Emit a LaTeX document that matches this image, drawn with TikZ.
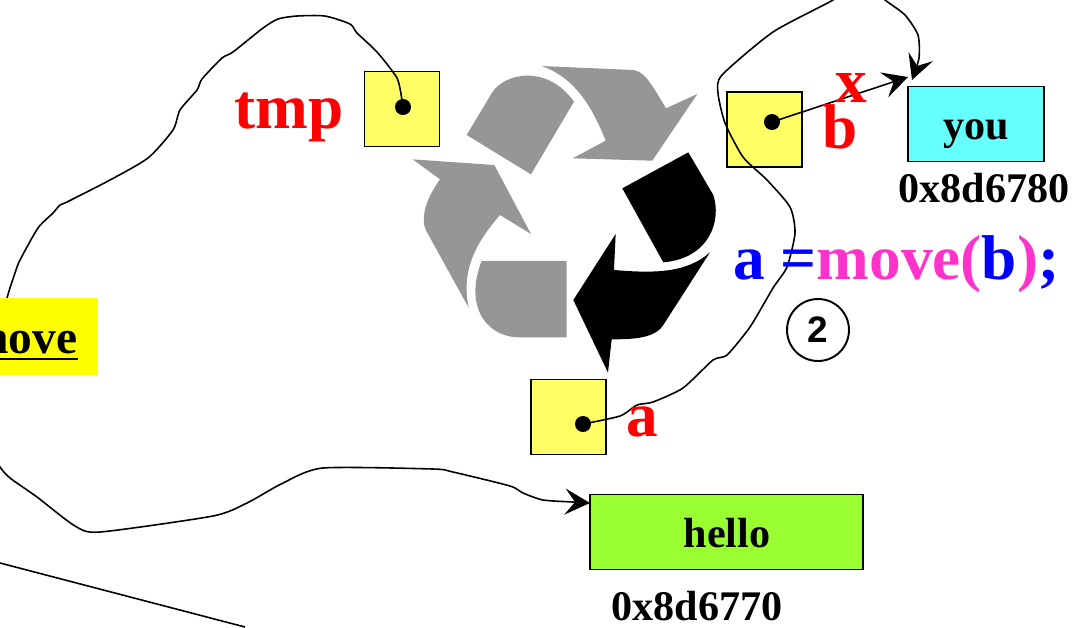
\documentclass[tikz,border=0pt]{standalone}
\usepackage{fontspec}
\setmainfont{Liberation Serif}
\setsansfont{Liberation Sans}
\usetikzlibrary{arrows.meta}
\definecolor{ptrfill}{HTML}{FFFF66}
\definecolor{youfill}{HTML}{66FFFF}
\definecolor{hellofill}{HTML}{99FF33}
\definecolor{namefill}{HTML}{FFFF00}
\definecolor{recyclegray}{HTML}{969696}
\definecolor{movepink}{HTML}{FF33CC}
\definecolor{moveblue}{HTML}{0000FF}
\definecolor{labelred}{HTML}{FF0000}
\tikzset{
    ptrbox/.style={draw, line width=1.05pt, fill=ptrfill, minimum size=1.5cm, inner sep=0pt},
    strbox/.style={draw, line width=1.05pt, minimum height=1.5cm, inner sep=0pt},
    ptrdot/.style={circle, fill=black, minimum size=0.32cm, inner sep=0pt},
    ptrline/.style={line width=0.9pt, line join=round},
    ptrarrow/.style={ptrline, -{Stealth[length=0.5cm, width=0.52cm, inset=0.2cm]}},
    redlabel/.style={anchor=base, text=labelred, font=\bfseries\fontsize{36}{36}\selectfont},
    addrlabel/.style={anchor=base, font=\bfseries\fontsize{24}{24}\selectfont},
}
\begin{document}
\begin{tikzpicture}[x=0.02cm, y=-0.02cm]
    \clip (0,0) rectangle (1076,627);

    % Recycling symbol
    \begin{scope}[shift={(400,50)}, x=0.02cm/3, y=-0.02cm/3]
        \fill[recyclegray] (425,48) -- (700,60) .. controls (730,65) and (745,85) .. (798,175) -- (892,132) -- (757,332) -- (518,325) -- (617,272) .. controls (580,180) and (530,85) .. (425,48) -- cycle;
        \fill[recyclegray] (200,255) -- (275,130) .. controls (310,70) and (440,40) .. (522,155) -- (393,373) -- cycle;
        \fill[recyclegray] (38,328) -- (283,345) -- (393,552) -- (300,495) .. controls (240,565) and (180,650) .. (206,773) -- (80,545) .. controls (60,510) and (75,450) .. (120,388) -- cycle;
        \fill[recyclegray] (245,633) -- (500,633) -- (500,862) -- (350,862) .. controls (250,855) and (195,760) .. (245,633) -- cycle;
        \fill[black] (865,307) -- (940,435) .. controls (965,510) and (930,625) .. (790,637) -- (667,415) -- cycle;
        \fill[black] (647,552) -- (642,660) .. controls (760,670) and (860,670) .. (930,607) -- (790,825) .. controls (765,865) and (700,868) .. (635,868) -- (624,968) -- (520,750) -- cycle;
    \end{scope}

    % Pointer boxes
    \node[ptrbox] (tmpbox) at (402,109) {};
    \node[ptrbox] (bptr) at (764.5,129.5) {};
    \node[ptrbox] (aptr) at (568.5,417) {};
    \node[ptrdot] (tmpdot) at (403,107) {};
    \node[ptrdot] (bdot) at (772,122) {};
    \node[ptrdot] (adot) at (583,424) {};

    % Strings
    \node[strbox, fill=youfill, minimum width=2.72cm] (youbox) at (976,124) {};
    \node[strbox, fill=hellofill, minimum width=5.46cm] (hellobox) at (726.5,532) {};
    \node[addrlabel] (youtext) at (976,139) {you};
    \node[addrlabel] (hellotext) at (727,547) {hello};
    \node[addrlabel] (youaddr) at (984,202) {0x8d6780};
    \node[addrlabel] (helloaddr) at (697,620) {0x8d6770};

    % Free ends
    \coordinate (youtip) at (912,80);
    \coordinate (youleft) at (908,77);
    \coordinate (hellotip) at (590,503);
    \coordinate (lineleft) at (0,563);
    \coordinate (lineright) at (245,627);

    % Curves
    \draw[ptrarrow] plot[smooth, tension=0.4] coordinates {(tmpdot.center) (402,100) (397,78) (377,52) (357,33) (350,24) (325,16) (297,16) (278,19) (263,28) (233,52) (222,58) (202,79) (197,90) (180,110) (173,130) (148,158) (110,180) (67,202) (60,205) (53,213) (38,228) (20,260) (15,273) (7,298) (-15,380) (-5,455) (0,467) (10,478) (37,497) (75,526) (100,532) (213,516) (247,503) (283,483) (323,468) (433,469) (453,472) (510,486) (523,493) (543,500) (573,502) (hellotip)};
    \draw[ptrarrow] plot[smooth, tension=0.4] coordinates {(adot.center) (620,416) (637,405) (653,402) (683,388) (713,360) (727,355) (750,327) (773,288) (787,267) (795,233) (790,207) (767,180) (743,157) (725,123) (718,93) (722,75) (773,32) (833,0) (860,-20) (885,0) (905,15) (918,35) (919,58) (youtip)};
    \draw[ptrarrow] (bdot.center) -- (youleft);
    \draw[ptrline] (lineleft) -- (lineright);

    % Labels
    \node[redlabel] (tmplabel) at (289,128) {tmp};
    \node[redlabel] (blabel) at (840,148) {b};
    \node[redlabel] (alabel) at (642,436) {a};
    \node[redlabel] (xlabel) at (851,102) {x};
    \node[anchor=base west, inner sep=0pt, font=\bfseries\fontsize{36}{36}\selectfont] (movecall) at (733,279) {\textcolor{moveblue}{a =}\textcolor{movepink}{move(}\textcolor{moveblue}{b}\textcolor{movepink}{)}\textcolor{moveblue}{;}};
    \node[circle, draw, line width=1.1pt, minimum size=1.24cm, inner sep=0pt, font=\sffamily\bfseries\fontsize{21}{21}\selectfont] (steptwo) at (818,330) {2};

    % Function name
    \fill[namefill] (-5,298) rectangle (98,375);
    \node[anchor=base east, inner sep=0pt, font=\bfseries\fontsize{27}{27}\selectfont] (movename) at (77.5,353) {move};
    \draw[line width=1.6pt] (movename.base west |- 0,359) -- (movename.base east |- 0,359);
\end{tikzpicture}
\end{document}
